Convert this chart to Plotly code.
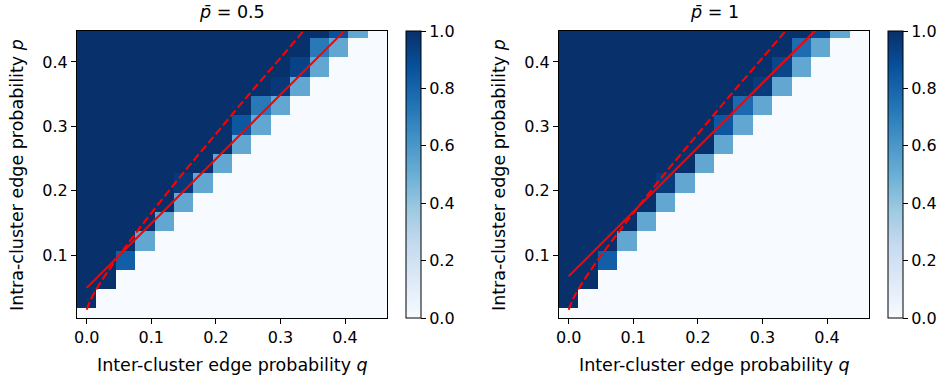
import plotly.graph_objects as go
import plotly.colors as pc

# ---------------- data ----------------
q_vals = [0.00, 0.03, 0.06, 0.09, 0.12, 0.15, 0.18, 0.21, 0.24, 0.27, 0.30, 0.33, 0.36, 0.39, 0.42, 0.45]
p_vals = [0.002, 0.032, 0.062, 0.092, 0.122, 0.152, 0.182, 0.212, 0.242, 0.272, 0.302, 0.332, 0.362, 0.392, 0.422, 0.452]

# number of empty (0.0) rows at the bottom of each q column
left_white_rows = [1, 2, 3, 4, 5, 6, 7, 8, 9, 10, 11, 12, 13, 14, 15, 16]
right_white_rows = [1, 2, 3, 4, 5, 6, 7, 8, 9, 10, 11, 12, 13, 14, 15, 16]
# partial values above the empty rows (before reaching 1.0)
left_transition = [[], [], [0.82], [0.53], [0.53], [0.53, 0.97], [0.53], [0.53],
                   [0.53, 0.85], [0.53, 0.72], [0.53, 0.97], [0.53, 0.93],
                   [0.53, 0.72], [0.53, 0.88], [0.53], []]
right_transition = [[], [], [0.82], [0.53], [0.53], [0.53, 0.96], [0.53], [0.53],
                    [0.53, 0.85], [0.53, 0.78], [0.53, 0.96], [0.53, 0.92],
                    [0.53, 0.77], [0.53, 0.90], [0.53], []]

# red threshold lines
left_solid_q = [0.0, 0.40]
left_solid_p = [0.049, 0.449]
right_solid_q = [0.0, 0.39]
right_solid_p = [0.067, 0.457]
dashed_q = [0.0, 0.005, 0.01, 0.02, 0.04, 0.07, 0.10, 0.15, 0.20, 0.25, 0.30, 0.34]
dashed_p = [0.015, 0.028, 0.038, 0.055, 0.085, 0.126, 0.165, 0.228, 0.288, 0.348, 0.406, 0.453]

titles = ["<i>p̄</i>\u00a0=\u00a00.5", "<i>p̄</i>\u00a0=\u00a01"]
x_title = "Inter-cluster edge probability <i>q</i>"
y_title = "Intra-cluster edge probability <i>p</i>"
x_ticks = [0.0, 0.1, 0.2, 0.3, 0.4]
y_ticks = [0.1, 0.2, 0.3, 0.4]
cbar_ticks = [0.0, 0.2, 0.4, 0.6, 0.8, 1.0]


def build_matrix(white_rows, transition):
    n_rows, n_cols = len(p_vals), len(q_vals)
    z = [[1.0] * n_cols for _ in range(n_rows)]
    for c in range(n_cols):
        col = [0.0] * white_rows[c] + list(transition[c])
        col = col + [1.0] * (n_rows - len(col))
        for r in range(n_rows):
            z[r][c] = col[r]
    return z


blues = pc.sequential.Blues
n = len(blues)
colorscale = [[i / (n - 1), blues[i]] for i in range(n)]

W, H = 947, 381
FONT = "DejaVu Sans"
FS = 16
FS_LABEL = 17.5


def fx(px):
    return px / W


def fy(py):
    return (H - py) / H


y_dom = [fy(318), fy(31)]
x_px = [(77, 387), (559, 869)]
x_doms = [[fx(a), fx(b)] for a, b in x_px]
cbar_x = [fx(406), fx(888)]

fig = go.Figure()
mats = [build_matrix(left_white_rows, left_transition),
        build_matrix(right_white_rows, right_transition)]
solids = [(left_solid_q, left_solid_p), (right_solid_q, right_solid_p)]

for i in range(2):
    xa = "x" if i == 0 else "x2"
    ya = "y" if i == 0 else "y2"
    ca = "coloraxis" if i == 0 else "coloraxis2"
    fig.add_trace(go.Heatmap(x=q_vals, y=p_vals, z=mats[i], coloraxis=ca,
                             xaxis=xa, yaxis=ya, xgap=0, ygap=0))
    fig.add_trace(go.Scatter(x=dashed_q, y=dashed_p, mode="lines", xaxis=xa, yaxis=ya,
                             line=dict(color="red", width=2.1, dash="8px,3.5px", shape="spline"),
                             showlegend=False, hoverinfo="skip"))
    fig.add_trace(go.Scatter(x=solids[i][0], y=solids[i][1], mode="lines", xaxis=xa, yaxis=ya,
                             line=dict(color="red", width=2.1),
                             showlegend=False, hoverinfo="skip"))

axis_common = dict(showgrid=False, zeroline=False, ticks="outside", ticklen=5, tickwidth=1,
                   tickcolor="black", showline=True, mirror=True, linecolor="black", linewidth=1,
                   automargin=False,
                   tickfont=dict(size=FS, family=FONT, color="black"))

layout = dict(
    width=W, height=H, margin=dict(l=0, r=0, t=0, b=0, autoexpand=False),
    paper_bgcolor="white", plot_bgcolor="white",
    font=dict(family=FONT, size=FS, color="black"),
    showlegend=False,
)

for i in range(2):
    sfx = "" if i == 0 else "2"
    layout["xaxis" + sfx] = dict(domain=x_doms[i], range=[-0.015, 0.465], anchor="y" + sfx,
                                 tickvals=x_ticks, tickformat=".1f", **axis_common)
    layout["yaxis" + sfx] = dict(domain=y_dom, range=[0.0022, 0.448], anchor="x" + sfx,
                                 tickvals=y_ticks, tickformat=".1f", **axis_common)
    layout["coloraxis" + sfx] = dict(
        colorscale=colorscale, cmin=0, cmax=1,
        colorbar=dict(x=cbar_x[i], xanchor="left", y=y_dom[0], yanchor="bottom",
                      len=y_dom[1] - y_dom[0], lenmode="fraction", thickness=15,
                      outlinewidth=1, outlinecolor="black", ticks="outside", ticklen=5,
                      tickcolor="black", tickvals=cbar_ticks, tickformat=".1f",
                      tickfont=dict(size=FS, family=FONT, color="black"), xpad=0, ypad=0))

fig.update_layout(**layout)

for i in range(2):
    cx = fx((x_px[i][0] + x_px[i][1]) / 2)
    fig.add_annotation(x=cx, y=fy(12), xref="paper", yref="paper",
                       text=titles[i], showarrow=False, xanchor="center", yanchor="middle",
                       font=dict(size=17.5, family=FONT, color="black"))
    fig.add_annotation(x=cx, y=fy(365), xref="paper", yref="paper",
                       text=x_title, showarrow=False, xanchor="center", yanchor="middle",
                       font=dict(size=FS_LABEL, family=FONT, color="black"))
    fig.add_annotation(x=fx(x_px[i][0] - 60), y=fy(175), xref="paper", yref="paper",
                       text=y_title, showarrow=False, xanchor="center", yanchor="middle",
                       textangle=-90, font=dict(size=FS_LABEL, family=FONT, color="black"))

fig.write_html("out.html", config={"displayModeBar": False},
               post_script="document.body.style.margin='0';document.body.style.overflow='hidden';")
